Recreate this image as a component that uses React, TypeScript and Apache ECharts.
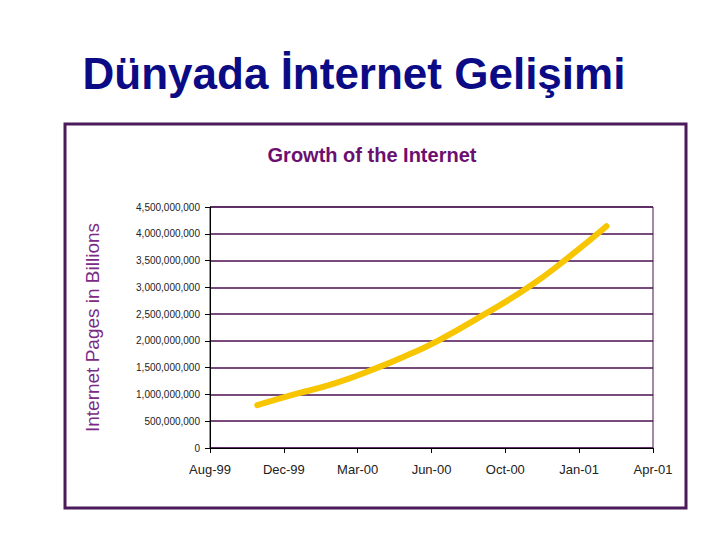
import React, { useEffect, useRef } from "react";
import * as echarts from "echarts";

const xTickLabels = ["Aug-99", "Dec-99", "Mar-00", "Jun-00", "Oct-00", "Jan-01", "Apr-01"];
// positions along the date axis, in tick-interval units (Aug-99 = 0 ... Apr-01 = 6)
const pointPositions = [0.64, 1.14, 1.7, 2.27, 2.7, 3.085, 3.72, 4.31, 4.8, 5.37];
// internet pages
const pageCounts = [
  800000000, 1000000000, 1210000000, 1500000000, 1750000000, 2000000000, 2500000000,
  3000000000, 3500000000, 4140000000,
];
const yMax = 4500000000;
const yStep = 500000000;

const mainTitle = "Dünyada İnternet Gelişimi";
const chartTitle = "Growth of the Internet";
const yAxisTitle = "Internet Pages in Billions";

export default function App() {
  const ref = useRef<HTMLDivElement>(null);
  useEffect(() => {
    if (!ref.current) return;
    const chart = echarts.init(ref.current, null, { renderer: "svg" });
    const data = pointPositions.map((x, i) => [x, pageCounts[i]]);
    chart.setOption({
      animation: false,
      backgroundColor: "#ffffff",
      textStyle: { fontFamily: "Liberation Sans, Arial, sans-serif" },
      grid: {
        left: 210,
        right: 67,
        top: 207,
        bottom: 92,
        show: true,
        borderColor: "#4a1150",
        borderWidth: 1,
        backgroundColor: "transparent",
      },
      xAxis: {
        type: "value",
        min: 0,
        max: 6,
        interval: 1,
        axisLine: { show: true, lineStyle: { color: "#000000", width: 1 } },
        axisTick: { show: true, length: 5, lineStyle: { color: "#000000" } },
        splitLine: { show: false },
        axisLabel: {
          color: "#222222",
          fontSize: 13,
          margin: 15,
          formatter: (v: number) => xTickLabels[Math.round(v)] ?? "",
        },
      },
      yAxis: {
        type: "value",
        min: 0,
        max: yMax,
        interval: yStep,
        name: yAxisTitle,
        nameLocation: "middle",
        nameGap: 108,
        nameRotate: 90,
        nameTextStyle: { color: "#7b2a86", fontSize: 19 },
        axisLine: { show: true, lineStyle: { color: "#000000", width: 1 } },
        axisTick: { show: true, length: 5, lineStyle: { color: "#000000" } },
        splitLine: { show: true, lineStyle: { color: "#4a1150", width: 1.6 } },
        axisLabel: {
          color: "#222222",
          fontSize: 10,
          margin: 10,
          formatter: (v: number) => v.toLocaleString("en-US"),
        },
      },
      series: [
        {
          type: "line",
          data,
          smooth: true,
          showSymbol: false,
          lineStyle: { color: "#f7c600", width: 6, cap: "round" },
          z: 5,
        },
      ],
      graphic: [
        {
          type: "rect",
          shape: { x: 65, y: 124, width: 621, height: 384 },
          style: { fill: "none", stroke: "#4a1a5a", lineWidth: 3 },
          z: 10,
        },
        {
          type: "text",
          x: 354,
          y: 73,
          style: {
            text: mainTitle,
            fill: "#0b0b86",
            font: "bold 44px 'Liberation Sans', Arial, sans-serif",
            textAlign: "center",
            textVerticalAlign: "middle",
          },
        },
        {
          type: "text",
          x: 372,
          y: 155,
          style: {
            text: chartTitle,
            fill: "#6b1070",
            font: "bold 20px 'Liberation Sans', Arial, sans-serif",
            textAlign: "center",
            textVerticalAlign: "middle",
          },
        },
      ],
    });
    return () => chart.dispose();
  }, []);
  return (
    <div
      ref={ref}
      style={{ position: "fixed", left: 0, top: 0, width: 720, height: 540, background: "#fff" }}
    />
  );
}
